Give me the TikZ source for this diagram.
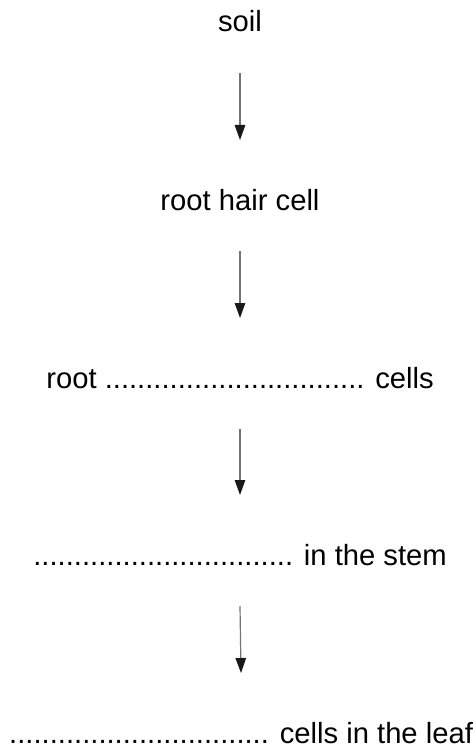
\documentclass[tikz,border=0pt]{standalone}
\usepackage{fontspec}
\setmainfont{Liberation Sans}
\usetikzlibrary{arrows.meta}
\newcommand{\gap}{................................}

\begin{document}
\begin{tikzpicture}[x=1pt,y=-1pt,
    stage/.style={anchor=base,inner sep=0pt,font=\fontsize{29.2}{35}\selectfont},
    flow/.style={draw=black!55,line width=1.2pt,-{Triangle[length=15pt,width=10.5pt,color=black!90]}}]
\useasboundingbox (0,0) rectangle (473,749);
\node[stage] (soil) at (240,32) {soil};
\node[stage] (hair) at (240,210) {root hair cell};
\node[stage] (cortex) at (240,388) {root \gap{} cells};
\node[stage] (xylem) at (240,565) {\gap{} in the stem};
\node[stage] (leaf) at (241,743) {\gap{} cells in the leaf};
\draw[flow] ([yshift=-41pt]soil.base) -- ([yshift=70pt]hair.base);
\draw[flow] ([yshift=-41pt]hair.base) -- ([yshift=70pt]cortex.base);
\draw[flow] ([yshift=-41pt]cortex.base) -- ([yshift=70pt]xylem.base);
\draw[flow] ([yshift=-41pt]xylem.base) -- ([yshift=70pt]leaf.base);
\end{tikzpicture}
\end{document}
